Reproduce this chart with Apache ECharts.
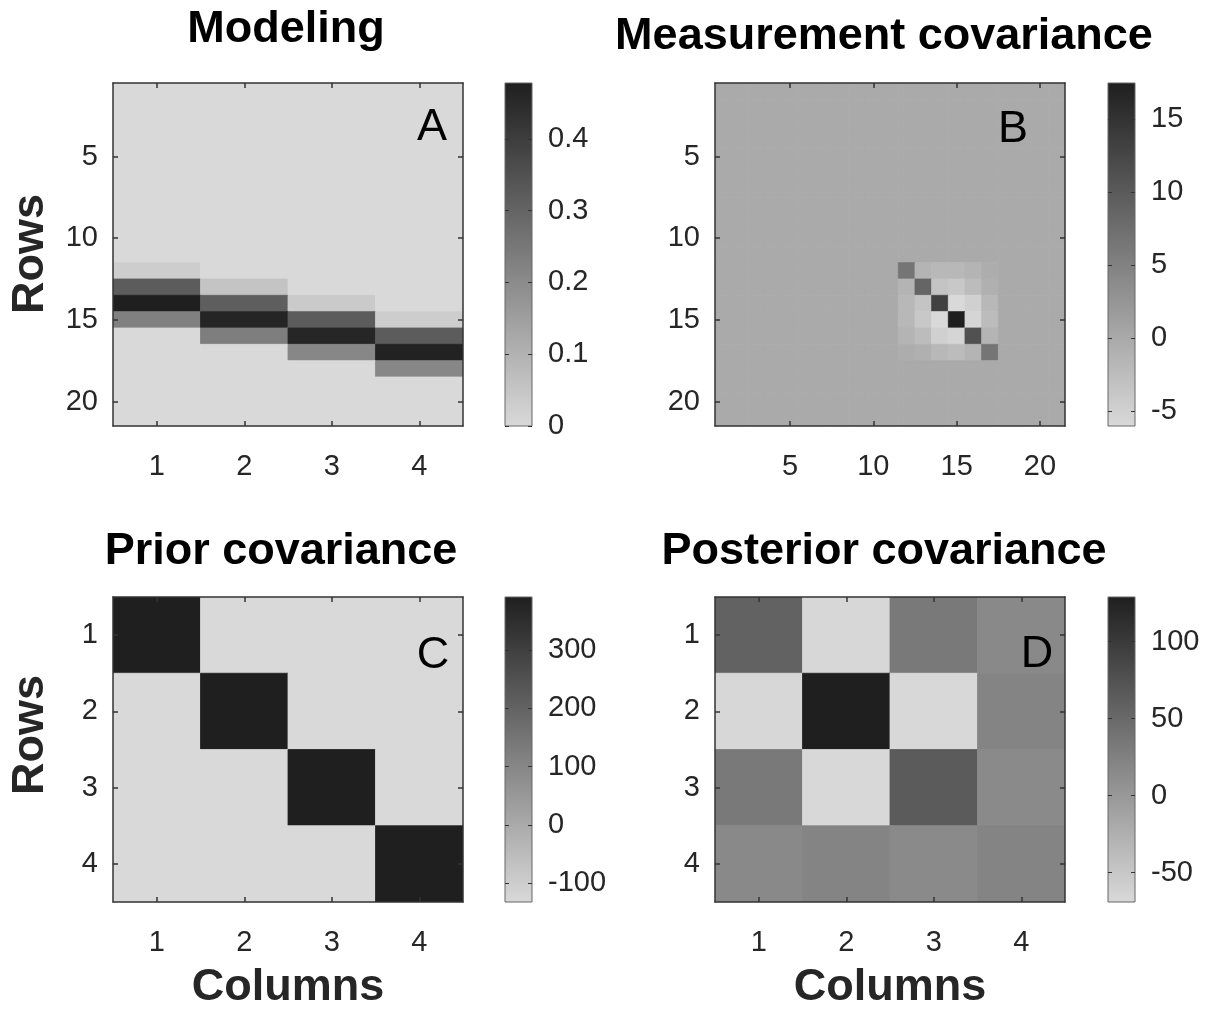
<!DOCTYPE html>
<html>
<head>
<meta charset="utf-8">
<script src="https://cdn.jsdelivr.net/npm/echarts@6/dist/echarts.min.js"></script>
<style>
  html, body { margin: 0; padding: 0; background: #ffffff; }
  #chart { width: 1214px; height: 1009px; }
</style>
</head>
<body>
<div id="chart"></div>
<script>
// ---------------- DATA ----------------
// Panel A: Modeling (21 rows x 4 columns)
const modelCols = ['1', '2', '3', '4'];
const modelRows = ['1','2','3','4','5','6','7','8','9','10','11','12','13','14','15','16','17','18','19','20','21'];
const modelRowTicks = ['5', '10', '15', '20'];
const modelValues = [
  [0, 0, 0, 0],
  [0, 0, 0, 0],
  [0, 0, 0, 0],
  [0, 0, 0, 0],
  [0, 0, 0, 0],
  [0, 0, 0, 0],
  [0, 0, 0, 0],
  [0, 0, 0, 0],
  [0, 0, 0, 0],
  [0, 0, 0, 0],
  [0, 0, 0, 0],
  [0.030, 0, 0, 0],
  [0.320, 0.054, 0, 0],
  [0.478, 0.315, 0.039, 0],
  [0.230, 0.463, 0.320, 0.031],
  [0, 0.233, 0.460, 0.320],
  [0, 0, 0.210, 0.470],
  [0, 0, 0, 0.210],
  [0, 0, 0, 0],
  [0, 0, 0, 0],
  [0, 0, 0, 0]
];
const modelRange = [0, 0.478];
const modelBarTicks = [0, 0.1, 0.2, 0.3, 0.4];

// Panel B: Measurement covariance (21 x 21, zero outside the block rows/cols 12..17)
const measCats = ['1','2','3','4','5','6','7','8','9','10','11','12','13','14','15','16','17','18','19','20','21'];
const measTicks = ['5', '10', '15', '20'];
const measBlockStart = 12;
const measBlock = [
  [ 6.6, -1.3, -1.8, -1.8, -1.3, -0.5],
  [-1.3,  8.6, -3.3, -3.8, -2.3, -0.8],
  [-1.8, -3.3, 13.2, -6.0, -4.8, -1.8],
  [-1.8, -3.8, -6.0, 17.5, -5.5, -2.3],
  [-1.3, -2.3, -4.8, -5.5, 11.2, -1.3],
  [-0.5, -0.8, -1.8, -2.3, -1.3,  6.6]
];
const measBackground = 0;
const measRange = [-6.0, 17.5];
const measBarTicks = [-5, 0, 5, 10, 15];

// Panel C: Prior covariance (4 x 4)
const priorCats = ['1', '2', '3', '4'];
const priorValues = [
  [391, -132, -132, -132],
  [-132, 391, -132, -132],
  [-132, -132, 391, -132],
  [-132, -132, -132, 391]
];
const priorRange = [-132, 391];
const priorBarTicks = [-100, 0, 100, 200, 300];

// Panel D: Posterior covariance (4 x 4)
const postCats = ['1', '2', '3', '4'];
const postValues = [
  [58, -67, 33, 16],
  [-67, 129, -68, 22],
  [33, -68, 65, 15],
  [16, 22, 15, 22]
];
const postRange = [-69, 129];
const postBarTicks = [-50, 0, 50, 100];

// ---------------- BUILD ----------------
const FONT = '"Liberation Sans", Arial, Helvetica, sans-serif';
const LIGHT = '#d9d9d9';
const DARK = '#1f1f1f';
const AXIS_COLOR = '#333333';
const LABEL_COLOR = '#262626';
const TICK_FONT = 29;

function toCells(matrix) {
  const out = [];
  matrix.forEach((row, r) => row.forEach((v, c) => out.push([c, r, v])));
  return out;
}
function measMatrix() {
  const n = measCats.length;
  const m = [];
  for (let r = 0; r < n; r++) {
    const row = [];
    for (let c = 0; c < n; c++) {
      const br = r - (measBlockStart - 1), bc = c - (measBlockStart - 1);
      if (br >= 0 && br < measBlock.length && bc >= 0 && bc < measBlock.length) row.push(measBlock[br][bc]);
      else row.push(measBackground);
    }
    m.push(row);
  }
  return m;
}

const panels = [
  { grid: { left: 113, top: 83, width: 350, height: 343 }, xCats: modelCols, yCats: modelRows,
    xTicks: modelCols, yTicks: modelRowTicks, data: toCells(modelValues), range: modelRange,
    bar: { left: 505, top: 83, width: 27, height: 343 }, barTicks: modelBarTicks },
  { grid: { left: 715, top: 83, width: 350, height: 343 }, xCats: measCats, yCats: measCats,
    xTicks: measTicks, yTicks: measTicks, data: toCells(measMatrix()), range: measRange,
    bar: { left: 1108, top: 83, width: 27, height: 343 }, barTicks: measBarTicks },
  { grid: { left: 113, top: 597, width: 350, height: 305 }, xCats: priorCats, yCats: priorCats,
    xTicks: priorCats, yTicks: priorCats, data: toCells(priorValues), range: priorRange,
    bar: { left: 505, top: 597, width: 27, height: 305 }, barTicks: priorBarTicks },
  { grid: { left: 715, top: 597, width: 350, height: 305 }, xCats: postCats, yCats: postCats,
    xTicks: postCats, yTicks: postCats, data: toCells(postValues), range: postRange,
    bar: { left: 1108, top: 597, width: 27, height: 305 }, barTicks: postBarTicks }
];

function catAxis(gridIndex, data, position, ticks, showLabel, isY) {
  const set = new Set(ticks);
  const fn = (i, v) => set.has(String(v));
  return {
    gridIndex, type: 'category', data, position, inverse: isY, boundaryGap: true, z: 10,
    axisLine: { show: true, onZero: false, lineStyle: { color: AXIS_COLOR, width: 1.5 } },
    axisTick: { show: true, inside: true, length: 5, alignWithLabel: true, interval: fn,
                lineStyle: { color: AXIS_COLOR, width: 1.5 } },
    axisLabel: { show: showLabel, interval: fn, fontSize: TICK_FONT, color: LABEL_COLOR, fontFamily: FONT,
                 margin: isY ? 15 : 27, lineHeight: 28 },
    splitLine: { show: false }, splitArea: { show: false }
  };
}

function renderCell(params, api) {
  const c = api.coord([api.value(0), api.value(1)]);
  const s = api.size([1, 1]);
  const fill = api.visual('color');
  return {
    type: 'rect',
    shape: { x: c[0] - s[0] / 2, y: c[1] - s[1] / 2, width: s[0], height: s[1] },
    style: { fill: fill, stroke: fill, lineWidth: 0.8 }
  };
}

const grids = [], xAxes = [], yAxes = [], series = [], visualMaps = [];
panels.forEach((p) => {
  grids.push(Object.assign({ show: false }, p.grid));
});
panels.forEach((p) => {
  grids.push(Object.assign({
    show: true, borderColor: '#666666', borderWidth: 1,
    backgroundColor: { type: 'linear', x: 0, y: 0, x2: 0, y2: 1,
      colorStops: [{ offset: 0, color: DARK }, { offset: 1, color: LIGHT }] }
  }, p.bar));
});

panels.forEach((p, i) => {
  xAxes.push(catAxis(i, p.xCats, 'bottom', p.xTicks, true, false));
  xAxes.push(catAxis(i, p.xCats, 'top', p.xTicks, false, false));
  yAxes.push(catAxis(i, p.yCats, 'left', p.yTicks, true, true));
  yAxes.push(catAxis(i, p.yCats, 'right', p.yTicks, false, true));
  series.push({
    type: 'custom', xAxisIndex: 2 * i, yAxisIndex: 2 * i, data: p.data,
    renderItem: renderCell, encode: { x: 0, y: 1 }, clip: true, silent: true, animation: false
  });
  visualMaps.push({
    type: 'continuous', show: false, seriesIndex: i, dimension: 2,
    min: p.range[0], max: p.range[1], inRange: { color: [LIGHT, DARK] }
  });
});
panels.forEach((p, i) => {
  const g = 4 + i;
  xAxes.push({ gridIndex: g, type: 'value', show: false, min: 0, max: 1 });
  yAxes.push({
    gridIndex: g, type: 'value', position: 'right', min: p.range[0], max: p.range[1], z: 10,
    axisLine: { show: false, onZero: false },
    axisTick: { show: true, inside: true, length: 4, customValues: p.barTicks,
                lineStyle: { color: AXIS_COLOR, width: 1 } },
    axisLabel: { show: true, customValues: p.barTicks, fontSize: TICK_FONT, color: LABEL_COLOR,
                 fontFamily: FONT, margin: 16 },
    splitLine: { show: false }
  });
  yAxes.push({
    gridIndex: g, type: 'value', position: 'left', min: p.range[0], max: p.range[1], z: 10,
    axisLine: { show: false, onZero: false },
    axisTick: { show: true, inside: true, length: 4, customValues: p.barTicks,
                lineStyle: { color: AXIS_COLOR, width: 1 } },
    axisLabel: { show: false },
    splitLine: { show: false }
  });
});

// Texts: titles, axis names, panel letters
const titleTexts = [
  ['Modeling', 286, 30], ['Measurement covariance', 884, 37],
  ['Prior covariance', 281, 552], ['Posterior covariance', 884, 552]
];
const axisNames = [
  ['Rows', 31, 254, true], ['Rows', 31, 735, true],
  ['Columns', 288, 988, false], ['Columns', 890, 988, false]
];
const letters = [['A', 432, 128], ['B', 1013, 130], ['C', 433, 656], ['D', 1037, 655]];

const graphics = [];
titleTexts.forEach(([t, x, y]) => graphics.push({
  type: 'text', x, y, z: 100,
  style: { text: t, fill: '#000', font: 'bold 45px ' + FONT, textAlign: 'center', textVerticalAlign: 'middle' }
}));
axisNames.forEach(([t, x, y, rot]) => graphics.push({
  type: 'text', x, y, rotation: rot ? Math.PI / 2 : 0, z: 100,
  style: { text: t, fill: '#262626', font: 'bold 45px ' + FONT, textAlign: 'center', textVerticalAlign: 'middle' }
}));
letters.forEach(([t, x, y]) => graphics.push({
  type: 'text', x, y, z: 100,
  style: { text: t, fill: '#000', font: '45px ' + FONT, textAlign: 'center', textVerticalAlign: 'middle' }
}));

const chart = echarts.init(document.getElementById('chart'), null, { renderer: 'canvas' });
chart.setOption({
  animation: false,
  backgroundColor: '#ffffff',
  textStyle: { fontFamily: FONT },
  grid: grids,
  xAxis: xAxes,
  yAxis: yAxes,
  visualMap: visualMaps,
  series,
  graphic: graphics
});
</script>
</body>
</html>
